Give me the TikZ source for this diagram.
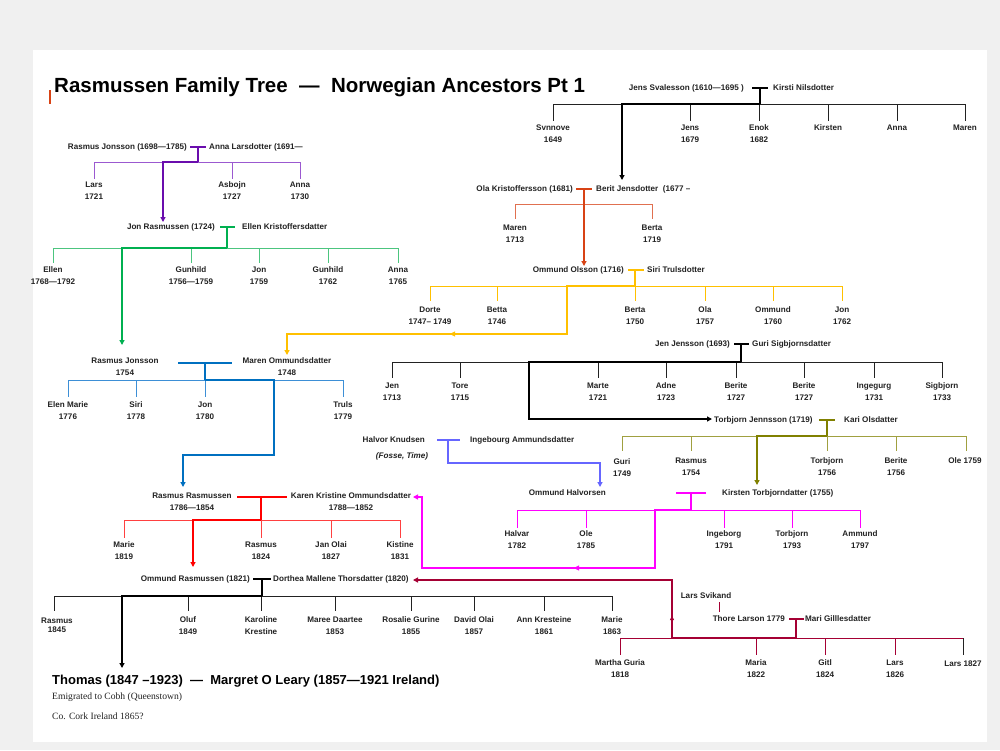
\documentclass[tikz,border=0pt]{standalone}
\usepackage{fontspec}
\setmainfont{Liberation Sans}
\newfontfamily\serifx{Liberation Serif}
\usetikzlibrary{arrows.meta,decorations.markings}
\definecolor{cpur}{HTML}{6A0DAD}\definecolor{cpurl}{HTML}{9B59D0}
\definecolor{cgrn}{HTML}{00B050}\definecolor{cgrnl}{HTML}{4CC57F}
\definecolor{cblu}{HTML}{0070C0}\definecolor{cblul}{HTML}{3D8FD6}
\definecolor{cyel}{HTML}{FFC000}\definecolor{cora}{HTML}{D84315}\definecolor{coral}{HTML}{E07050}
\definecolor{cred}{HTML}{FF0000}\definecolor{credl}{HTML}{FF4040}
\definecolor{cmag}{HTML}{FF00FF}\definecolor{coli}{HTML}{808000}\definecolor{colil}{HTML}{A0A040}
\definecolor{cvio}{HTML}{6666FF}\definecolor{ccri}{HTML}{A50034}\definecolor{cblk}{HTML}{222222}
\tikzset{
 t/.style={font=\fontsize{8.1}{12}\selectfont\bfseries, inner sep=0pt, align=center, text=cblk},
 thin/.style={line width=1pt},
 thick/.style={line width=2.6pt},
 tee/.style={line width=2.6pt},
 arr/.style={-{Triangle[length=5pt,width=5pt]}},
}
\newcommand{\kids}[5]{% color, barY, endY, list of x, textY
 \foreach \xx in {#4} {\draw[thin,#1] (\xx,#2) -- (\xx,#3);}}
\begin{document}
\begin{tikzpicture}[x=1pt,y=-1pt]
\useasboundingbox (0,0) rectangle (1000,750);
\fill[gray!12] (0,0) rectangle (1000,750);
\fill[white] (33,50) rectangle (987,742);
% title
\fill[cora] (49,90) rectangle (51,104);
\node[anchor=west,inner sep=0pt,font=\fontsize{20.5}{24}\selectfont\bfseries] (title) at (54,87) {Rasmussen Family Tree\ \ —\ \ Norwegian Ancestors Pt 1};

% ===== Jens Svalesson (black)
\node[t,anchor=east] (jens) at (744,88) {Jens Svalesson (1610—1695 )};
\node[t,anchor=west] (kirsti) at (773,88) {Kirsti Nilsdotter};
\draw[tee,black] (752,88)--(768,88); \draw[tee,black] (760,88)--(760,104);
\draw[thin,cblk] (553,104)--(965,104);
\kids{cblk}{104}{121}{553,690,759,828,897,965}{}
\foreach \xx/\n/\a/\b in {553/svn/Svnnove/1649,690/jns/Jens/1679,759/enk/Enok/1682}
 \node[t] (\n) at (\xx,134) {\a\\\b};
\foreach \xx/\n/\a in {828/kir/Kirsten,897/ann/Anna,965/mar/Maren}
 \node[t] (\n) at (\xx,128) {\a};
\draw[thick,black,arr] (760,104)--(622,104)--(622,180);

% ===== Ola Kristoffersson (orange red)
\node[t,anchor=east] (ola) at (573,189) {Ola Kristoffersson (1681)};
\node[t,anchor=west] (berit) at (596,189) {Berit Jensdotter\ \ (1677 –};
\draw[tee,cora] (576,189)--(592,189);
\draw[thin,coral] (515,204)--(652,204);
\kids{coral}{204}{219}{515,652}{}
\node[t] (mar2) at (515,234) {Maren\\1713};
\node[t] (ber2) at (652,234) {Berta\\1719};
\draw[thick,cora,arr] (584,189)--(584,266);

% ===== Ommund Olsson (yellow)
\node[t,anchor=east] (omm) at (624,270) {Ommund Olsson (1716)};
\node[t,anchor=west] (siri) at (647,270) {Siri Trulsdotter};
\draw[tee,cyel] (628,270)--(644,270); \draw[tee,cyel] (635,270)--(635,286);
\draw[thin,cyel] (430,286)--(842,286);
\kids{cyel}{286}{301}{430,497,635,705,773,842}{}
\foreach \xx/\n/\a/\b in {430/dor/Dorte/1747– 1749,497/bet/Betta/1746,635/ber3/Berta/1750,705/ola3/Ola/1757,773/omm3/Ommund/1760,842/jon3/Jon/1762}
 \node[t] (\n) at (\xx,316) {\a\\\b};
\draw[thick,cyel,arr] (635,286)--(567,286)--(567,334)--(287,334)--(287,355);
\draw[cyel,-{Triangle[length=5pt,width=5pt]}] (456,334)--(450,334);

% ===== Rasmus Jonsson 1698 (purple)
\node[t,anchor=east] (rj) at (187,147) {Rasmus Jonsson (1698—1785)};
\node[t,anchor=west] (al) at (209,147) {Anna Larsdotter (1691—};
\draw[tee,cpur] (190,147)--(206,147); \draw[tee,cpur] (198,147)--(198,162);
\draw[thin,cpurl] (94,162)--(300,162);
\kids{cpurl}{162}{179}{94,232,300}{}
\node[t] (lars) at (94,191) {Lars\\1721};
\node[t] (asb) at (232,191) {Asbojn\\1727};
\node[t] (ann1) at (300,191) {Anna\\1730};
\draw[thick,cpur,arr] (198,162)--(163,162)--(163,222);

% ===== Jon Rasmussen (green)
\node[t,anchor=east] (jr) at (215,227) {Jon Rasmussen (1724)};
\node[t,anchor=west] (ek) at (242,227) {Ellen Kristoffersdatter};
\draw[tee,cgrn] (220,227)--(235,227); \draw[tee,cgrn] (227,227)--(227,248);
\draw[thin,cgrnl] (53,248)--(398,248);
\kids{cgrnl}{248}{263}{53,191,259,328,398}{}
\foreach \xx/\n/\a/\b in {53/ell/Ellen/1768—1792,191/gun1/Gunhild/1756—1759,259/jon4/Jon/1759,328/gun2/Gunhild/1762,398/ann4/Anna/1765}
 \node[t] (\n) at (\xx,276) {\a\\\b};
\draw[thick,cgrn,arr] (227,248)--(122,248)--(122,345);

% ===== Rasmus Jonsson 1754 (blue)
\node[t] (rj2) at (125,367) {Rasmus Jonsson\\1754};
\node[t] (mo) at (287,367) {Maren Ommundsdatter\\1748};
\draw[tee,cblu] (178,363)--(232,363); \draw[tee,cblu] (205,363)--(205,380);
\draw[thin,cblul] (68,380)--(343,380);
\kids{cblul}{380}{397}{68,136,205,343}{}
\foreach \xx/\n/\a/\b in {68/elm/Elen Marie/1776,136/sir/Siri/1778,205/jon5/Jon/1780,343/tru/Truls/1779}
 \node[t] (\n) at (\xx,411) {\a\\\b};
\draw[thick,cblu,arr] (205,380)--(274,380)--(274,455)--(183,455)--(183,487);

% ===== Rasmus Rasmussen (red)
\node[t] (rr) at (192,502) {Rasmus Rasmussen\\1786—1854};
\node[t] (kk) at (351,502) {Karen Kristine Ommundsdatter\\1788—1852};
\draw[tee,cred] (237,497)--(287,497); \draw[tee,cred] (261,497)--(261,520);
\draw[thin,credl] (124,520)--(400,520);
\kids{credl}{520}{538}{124,261,331,400}{}
\foreach \xx/\n/\a/\b in {124/mar6/Marie/1819,261/ras6/Rasmus/1824,331/jan6/Jan Olai/1827,400/kis6/Kistine/1831}
 \node[t] (\n) at (\xx,551) {\a\\\b};
\draw[thick,cred,arr] (261,520)--(193,520)--(193,567);

% ===== Ommund Rasmussen (black)
\node[t,anchor=east] (or) at (250,579) {Ommund Rasmussen (1821)};
\node[t,anchor=west] (dm) at (273,579) {Dorthea Mallene Thorsdatter (1820)};
\draw[tee,black] (253,579)--(271,579); \draw[tee,black] (262,579)--(262,596);
\draw[thin,cblk] (54,596)--(612,596);
\kids{cblk}{596}{611}{54,188,261,335,411,474,544,612}{}
\node[t] (ras7) at (57,625) {Rasmus\\[-3pt]1845};
\foreach \xx/\n/\a/\b in {188/olu/Oluf/1849,261/kar/Karoline/Krestine,335/mare/Maree Daartee/1853,411/ros/Rosalie Gurine/1855,474/dav/David Olai/1857,544/akr/Ann Kresteine/1861,612/mar7/Marie/1863}
 \node[t] (\n) at (\xx,626) {\a\\\b};
\draw[thick,black,arr] (262,596)--(122,596)--(122,668);
\node[anchor=west,inner sep=0pt,font=\fontsize{13}{15}\selectfont\bfseries] (thom) at (52,681) {Thomas (1847 –1923)\ \ —\ \ Margret O Leary (1857—1921 Ireland)};
\node[anchor=west,inner sep=0pt,font=\serifx\fontsize{9.6}{11}\selectfont,text=cblk] (emi) at (52,697) {Emigrated to Cobh (Queenstown)};
\node[anchor=west,inner sep=0pt,font=\serifx\fontsize{9.6}{11}\selectfont,text=cblk] (cork) at (52,716) {Co. Cork Ireland 1865?};

% ===== Jen Jensson (black)
\node[t,anchor=east] (jj) at (730,344) {Jen Jensson (1693)};
\node[t,anchor=west] (gs) at (752,344) {Guri Sigbjornsdatter};
\draw[tee,black] (734,344)--(749,344); \draw[tee,black] (741,344)--(741,362);
\draw[thin,cblk] (392,362)--(942,362);
\kids{cblk}{362}{378}{392,460,598,666,736,804,874,942}{}
\foreach \xx/\n/\a/\b in {392/jen8/Jen/1713,460/tor8/Tore/1715,598/mrt8/Marte/1721,666/adn8/Adne/1723,736/brt8/Berite/1727,804/brt9/Berite/1727,874/ing8/Ingegurg/1731,942/sig8/Sigbjorn/1733}
 \node[t] (\n) at (\xx,392) {\a\\\b};
\draw[thick,black,arr] (741,362)--(529,362)--(529,419)--(712,419);

% ===== Torbjorn Jennsson (olive)
\node[t,anchor=west] (tj) at (714,420) {Torbjorn Jennsson (1719)};
\node[t,anchor=west] (ko) at (844,420) {Kari Olsdatter};
\draw[tee,coli] (819,420)--(835,420); \draw[tee,coli] (827,420)--(827,436);
\draw[thin,colil] (622,436)--(966,436);
\kids{colil}{436}{451}{622,691,827,896,966}{}
\node[t] (gur9) at (622,468) {Guri\\1749};
\foreach \xx/\n/\a/\b in {691/ras9/Rasmus/1754,827/tor9/Torbjorn/1756,896/ber9/Berite/1756}
 \node[t] (\n) at (\xx,467) {\a\\\b};
\node[t] (ole9) at (965,461) {Ole 1759};
\draw[thick,coli,arr] (827,436)--(757,436)--(757,485);

% ===== Halvor Knudsen (violet)
\node[t,anchor=east] (hk) at (425,440) {Halvor Knudsen};
\node[t,anchor=west] (ia) at (470,440) {Ingebourg Ammundsdatter};
\node[t,font=\fontsize{8.1}{9}\selectfont\bfseries\itshape] (fos) at (402,456) {(Fosse, Time)};
\draw[tee,cvio] (437,440)--(460,440);
\draw[thick,cvio,arr] (448,440)--(448,463)--(600,463)--(600,487);

% ===== Ommund Halvorsen (magenta)
\node[t,anchor=east] (oh) at (606,493) {Ommund Halvorsen};
\node[t,anchor=west] (kt) at (722,493) {Kirsten Torbjorndatter (1755)};
\draw[tee,cmag] (676,493)--(706,493); \draw[tee,cmag] (691,493)--(691,510);
\draw[thin,cmag] (517,510)--(860,510);
\kids{cmag}{510}{528}{517,586,724,792,860}{}
\foreach \xx/\n/\a/\b in {517/hal/Halvar/1782,586/ole0/Ole/1785,724/ing0/Ingeborg/1791,792/tor0/Torbjorn/1793,860/amm0/Ammund/1797}
 \node[t] (\n) at (\xx,540) {\a\\\b};
\draw[thick,cmag,arr] (691,510)--(655,510)--(655,568)--(422,568)--(422,497)--(413,497);
\draw[cmag,-{Triangle[length=5pt,width=5pt]}] (580,568)--(574,568);

% ===== Thore Larson (crimson)
\node[t] (ls) at (706,596) {Lars Svikand};
\draw[thin,ccri] (719,602)--(719,612);
\node[t,anchor=east] (tl) at (785,619) {Thore Larson 1779};
\node[t,anchor=west] (mg) at (805,619) {Mari Gilllesdatter};
\draw[tee,ccri] (789,619)--(804,619); \draw[tee,ccri] (796,619)--(796,638);
\draw[thin,ccri] (620,638)--(963,638);
\kids{ccri}{638}{655}{620,756,825,895}{}
\draw[thin,cblk] (963,638)--(963,655);
\foreach \xx/\n/\a/\b in {620/mgu/Martha Guria/1818,756/mri/Maria/1822,825/gtl/Gitl/1824,895/lrs/Lars/1826}
 \node[t] (\n) at (\xx,669) {\a\\\b};
\node[t] (lrs2) at (963,664) {Lars 1827};
\draw[thick,ccri,arr] (796,638)--(672,638)--(672,580)--(413,580);
\draw[ccri,-{Triangle[length=4pt,width=4pt]}] (672,620)--(672,616);
\end{tikzpicture}
\end{document}
